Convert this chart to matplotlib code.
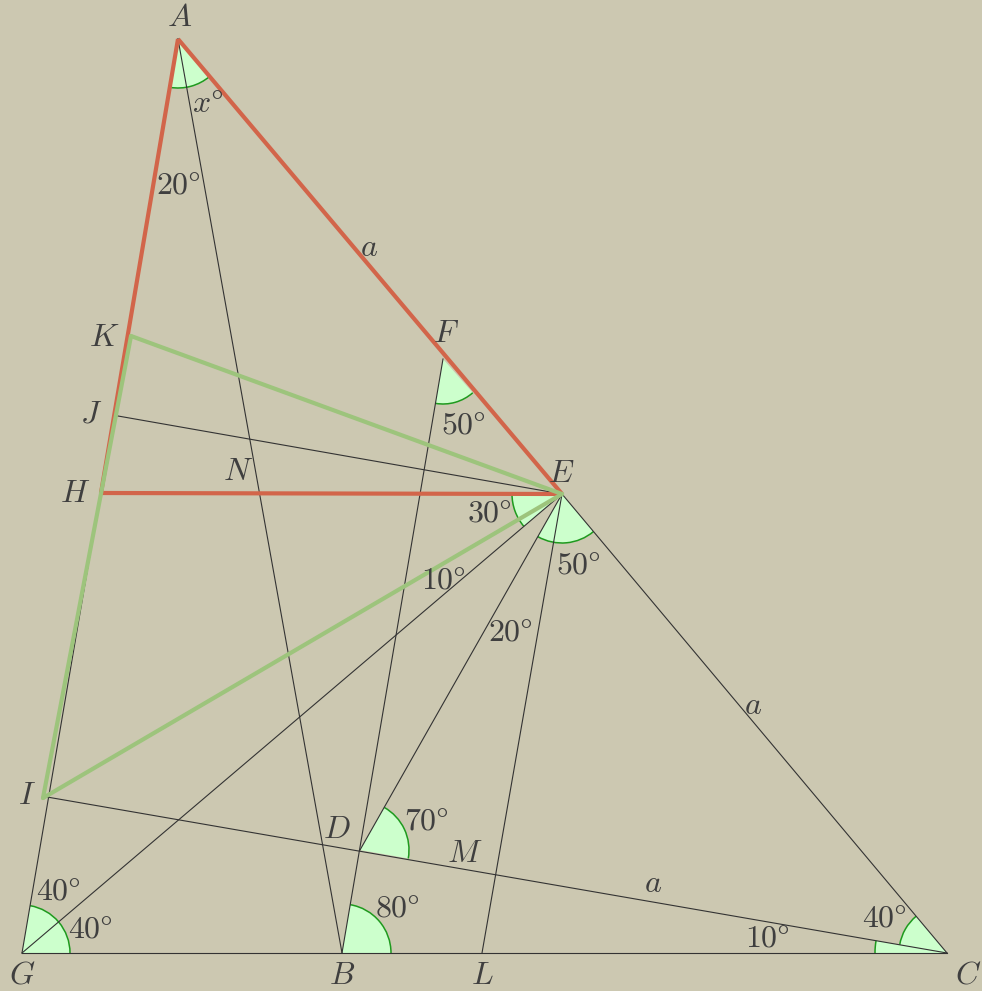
import numpy as np
import matplotlib
matplotlib.use("Agg")
import matplotlib.pyplot as plt
from matplotlib.patches import Wedge, Arc

plt.rcParams['mathtext.fontset'] = 'cm'

# Points (pixel-space coordinates, y downward)
P = {
    'A': (178, 39), 'G': (22, 953), 'B': (342, 953), 'L': (482, 953), 'C': (947, 953),
    'E': (562, 494), 'F': (443, 359), 'K': (131, 336), 'J': (118, 416), 'H': (101, 493),
    'I': (47, 797), 'Ig': (43, 798), 'D': (360, 850),
}

thin_lines = [('A', 'G'), ('G', 'C'), ('A', 'B'), ('B', 'F'), ('D', 'E'), ('L', 'E'),
              ('E', 'C'), ('I', 'C'), ('G', 'E'), ('J', 'E')]
red_lines = [('A', 'H'), ('H', 'E'), ('A', 'E')]
green_lines = [('K', 'E'), ('E', 'Ig'), ('Ig', 'K')]

# angle marks: vertex, ray1 point, ray2 point, radius
angle_marks = [('A', 'G', 'E', 49), ('F', 'B', 'E', 45), ('E', 'H', 'G', 50),
               ('E', 'D', 'C', 49), ('G', 'C', 'A', 48), ('B', 'C', 'F', 49),
               ('D', 'C', 'E', 49), ('C', 'G', 'I', 72), ('C', 'I', 'E', 48)]

point_labels = ['A', 'K', 'F', 'J', 'N', 'E', 'H', 'I', 'D', 'M', 'G', 'B', 'L', 'C']
point_label_pos = [(180, 18), (104, 337), (446, 333), (91, 414), (238, 472), (561, 473),
                   (75, 494), (27, 796), (337, 829), (465, 853), (22, 975), (342, 975),
                   (482, 975), (968, 975)]

angle_texts = [r'$x\degree$', r'$20\degree$', r'$50\degree$', r'$30\degree$', r'$50\degree$',
               r'$10\degree$', r'$20\degree$', r'$70\degree$', r'$40\degree$', r'$80\degree$',
               r'$40\degree$', r'$40\degree$', r'$10\degree$']
angle_text_pos = [(208, 104), (178, 185), (463, 425), (489, 513), (578, 565),
                  (443, 580), (510, 632), (426, 821), (58, 891), (397, 908),
                  (90, 929), (884, 918), (767, 938)]

side_texts = ['a', 'a', 'a']
side_text_pos = [(369, 248), (753, 705), (653, 884)]

BG = '#CCC8B1'
RED = '#D2654A'
GREEN = '#9DC47C'
TXT = '#3F3F3F'
FS = 23

fig = plt.figure(figsize=(9.82, 9.91), dpi=100, facecolor=BG)
ax = fig.add_axes([0, 0, 1, 1])
ax.set_facecolor(BG)
ax.set_xlim(0, 982)
ax.set_ylim(991, 0)
ax.axis('off')

def ang(v, p):
    return np.degrees(np.arctan2(P[p][1] - P[v][1], P[p][0] - P[v][0]))

for v, p1, p2, r in angle_marks:
    a1, a2 = ang(v, p1), ang(v, p2)
    if (a2 - a1) % 360 > 180:
        a1, a2 = a2, a1
    ax.add_patch(Wedge(P[v], r, a1, a2, facecolor='#CCFFCC', edgecolor='none', zorder=1))
    ax.add_patch(Arc(P[v], 2 * r, 2 * r, theta1=a1, theta2=a2, edgecolor='#1E9A1E', lw=1.1, zorder=2))

for a, b in thin_lines:
    ax.plot([P[a][0], P[b][0]], [P[a][1], P[b][1]], color='#333333', lw=0.8, zorder=3)
for a, b in red_lines:
    ax.plot([P[a][0], P[b][0]], [P[a][1], P[b][1]], color=RED, lw=3.0, zorder=4,
            solid_capstyle='butt')
for a, b in green_lines:
    ax.plot([P[a][0], P[b][0]], [P[a][1], P[b][1]], color=GREEN, lw=3.0, zorder=5,
            solid_capstyle='round')

for t, (x, y) in zip(point_labels, point_label_pos):
    ax.text(x, y, '$' + t + '$', fontsize=FS, color=TXT, ha='center', va='center', zorder=6)
for t, (x, y) in zip(angle_texts, angle_text_pos):
    ax.text(x, y, t, fontsize=FS, color=TXT, ha='center', va='center', zorder=6)
for t, (x, y) in zip(side_texts, side_text_pos):
    ax.text(x, y, '$' + t + '$', fontsize=FS, color=TXT, ha='center', va='center', zorder=6)

fig.savefig('out.png', dpi=100, facecolor=BG)
